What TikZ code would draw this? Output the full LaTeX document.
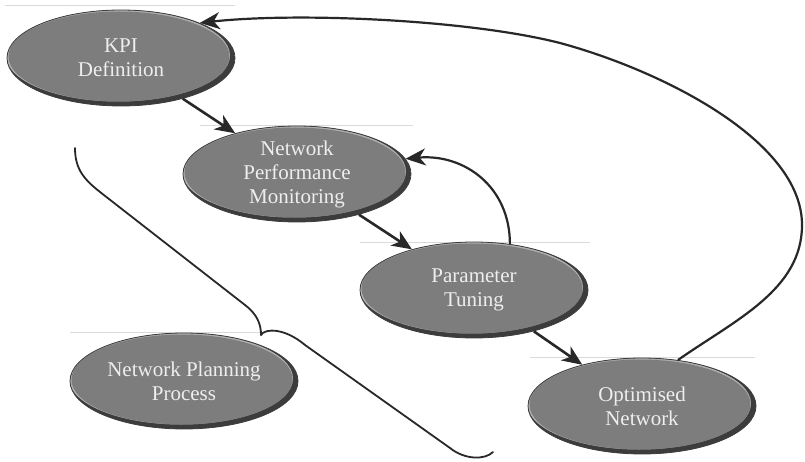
\documentclass[tikz,border=0pt]{standalone}
\usepackage{fontspec}
\setmainfont{Liberation Serif}
\usetikzlibrary{shapes.geometric,arrows.meta}
\definecolor{ellfill}{RGB}{125,125,125}
\definecolor{ellrim}{RGB}{60,60,60}
\definecolor{ellhi}{RGB}{175,175,175}
\definecolor{elltext}{RGB}{238,238,238}
\definecolor{arrowc}{RGB}{40,40,40}
\definecolor{scanline}{RGB}{218,218,218}
\begin{document}
\begin{tikzpicture}[x=1pt,y=1pt,
  stage/.style={ellipse, draw=ellrim, line width=0.8pt, inner sep=0pt,
    minimum width=228pt, minimum height=96pt, text=elltext,
    font=\fontsize{21}{24}\selectfont, align=center,
    path picture={
      \fill[ellrim] (path picture bounding box.south west) rectangle (path picture bounding box.north east);
      \fill[ellhi] ([shift={(-3pt,2.5pt)}]path picture bounding box.center) ellipse (112pt and 46pt);
      \fill[ellfill] ([shift={(-2pt,1.5pt)}]path picture bounding box.center) ellipse (110.5pt and 45pt);
    }},
  flow/.style={draw=arrowc, line width=2.6pt, -{Stealth[length=20pt,width=17pt,inset=6pt]}},
  loopflow/.style={draw=arrowc, line width=2.2pt, -{Stealth[length=20pt,width=17pt,inset=6pt]}},
  bracestroke/.style={draw=arrowc, line width=1.8pt, line cap=round},
  scan/.style={draw=scanline, line width=0.6pt}]
\useasboundingbox (0,0) rectangle (805,-462);
\fill[white] (0,0) rectangle (805,-462);
% faint scan lines
\draw[scan] (5,-5) -- (235,-5);
\draw[scan] (200,-125) -- (413,-125);
\draw[scan] (360,-242) -- (590,-242);
\draw[scan] (70,-332) -- (260,-332);
\draw[scan] (530,-357) -- (755,-357);
% stages
\node[stage] (kpi) at (121,-58) {KPI\\Definition};
\node[stage] (npm) at (297,-174) {Network\\Performance\\Monitoring};
\node[stage] (pt) at (474,-290) {Parameter\\Tuning};
\node[stage] (on) at (642,-406) {Optimised\\Network};
\node[stage] (npp) at (184,-381) {Network Planning\\Process};
% connectors
\draw[flow] (kpi) -- (npm);
\draw[flow] (npm) -- (pt);
\draw[flow] (pt) -- (on);
\draw[loopflow] (pt.52) to[out=90,in=5,looseness=1.1] (npm.8);
\coordinate (rgt) at (802,-225);
\coordinate (mid) at (560,-43);
\draw[loopflow] (on.52) .. controls (735,-320) and (802,-290) .. (rgt)
  .. controls (802,-140) and (660,-70) .. (mid)
  .. controls (470,-20) and (300,-12) .. (kpi.24);
% brace
\coordinate (btop) at (75,-148);
\coordinate (btip) at (261,-335);
\coordinate (bend) at (493,-452);
\draw[bracestroke] (btop) .. controls (75,-170) and (85,-180) .. (100,-192)
  -- (245,-305) .. controls (258,-315) and (261,-325) .. (btip);
\draw[bracestroke] (btip) .. controls (265,-328) and (285,-328) .. (305,-345)
  -- (450,-448) .. controls (465,-460) and (485,-460) .. (bend);
\end{tikzpicture}
\end{document}
